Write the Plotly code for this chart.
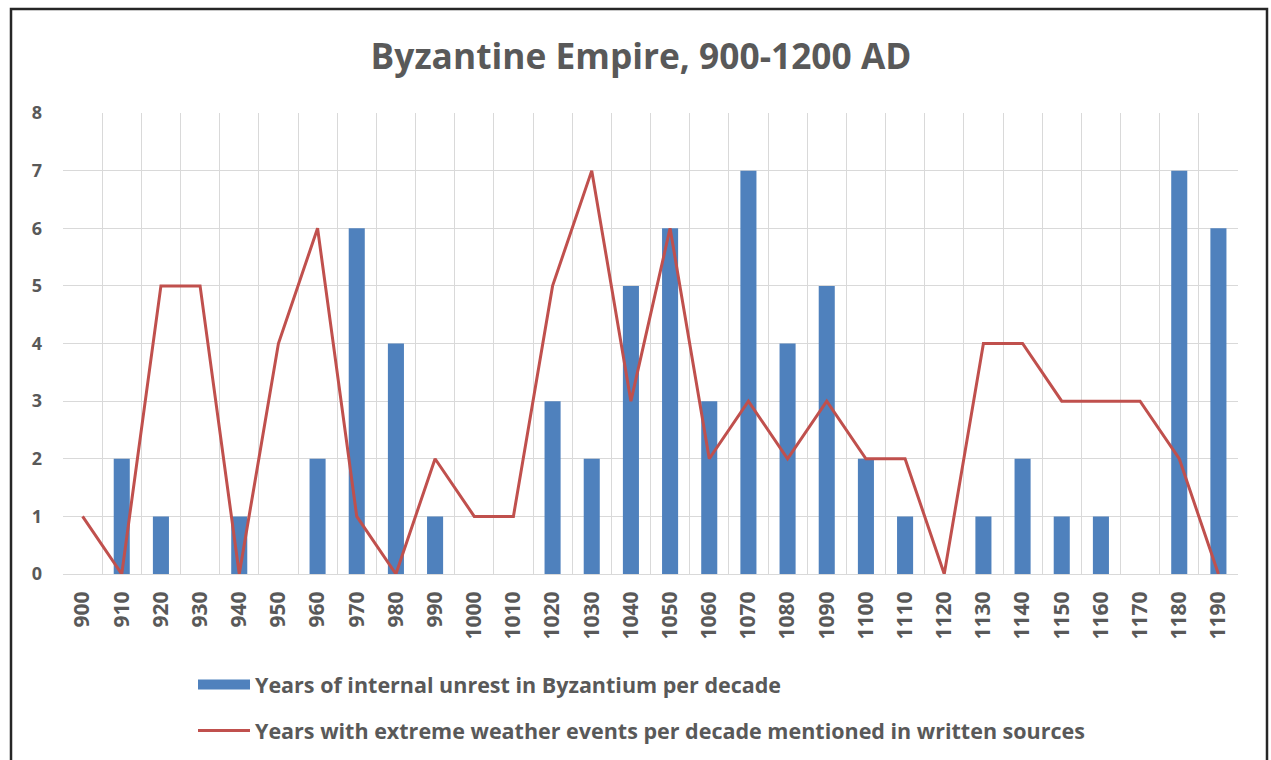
import plotly.graph_objects as go

decades = [900, 910, 920, 930, 940, 950, 960, 970, 980, 990,
           1000, 1010, 1020, 1030, 1040, 1050, 1060, 1070, 1080, 1090,
           1100, 1110, 1120, 1130, 1140, 1150, 1160, 1170, 1180, 1190]
unrest = [0, 2, 1, 0, 1, 0, 2, 6, 4, 1,
          0, 0, 3, 2, 5, 6, 3, 7, 4, 5,
          2, 1, 0, 1, 2, 1, 1, 0, 7, 6]
weather = [1, 0, 5, 5, 0, 4, 6, 1, 0, 2,
           1, 1, 5, 7, 3, 6, 2, 3, 2, 3,
           2, 2, 0, 4, 4, 3, 3, 3, 2, 0]
tick_labels = [str(d) for d in decades]
y_ticks = [0, 1, 2, 3, 4, 5, 6, 7, 8]

gray = "#595959"
blue = "#4f81bd"
red = "#c0504d"
font_family = "Open Sans, DejaVu Sans, sans-serif"

W, H = 1271, 760
L, T = 63, 113
PW, PH = 1175, 461

fig = go.Figure()
fig.add_trace(go.Bar(
    x=decades, y=unrest,
    name="Years of internal unrest in Byzantium per decade",
    marker=dict(color=blue, line=dict(width=0)),
    showlegend=False,
))
# legend swatch for the bars (wide block like the original)
fig.add_trace(go.Scatter(
    x=[None], y=[None], mode="lines",
    name="<b>Years of internal unrest in Byzantium per decade</b>",
    line=dict(color=blue, width=13),
    legendgroup="a",
))
fig.add_trace(go.Scatter(
    x=decades, y=weather, mode="lines",
    name="<b>Years with extreme weather events per decade mentioned in written sources</b>",
    line=dict(color=red, width=3),
    legendgroup="b",
))

fig.update_layout(
    width=W, height=H,
    paper_bgcolor="white", plot_bgcolor="white",
    margin=dict(l=L, r=W - L - PW, t=T, b=H - T - PH, autoexpand=False),
    title=dict(text="<b>Byzantine Empire, 900-1200 AD</b>", x=641 / W, xanchor="center",
               xref="container", y=1 - 57 / H, yanchor="middle",
               font=dict(family=font_family, size=35.3, color=gray)),
    bargap=0.59,
    showlegend=True,
    legend=dict(xref="container", yref="container",
                x=193 / W, y=1 - 664 / H, xanchor="left", yanchor="top",
                orientation="v", traceorder="grouped", tracegroupgap=15,
                itemwidth=52,
                font=dict(family=font_family, size=21.5, color=gray),
                bgcolor="rgba(0,0,0,0)"),
    xaxis=dict(
        range=[895, 1195], automargin=False,
        tickmode="array", tickvals=decades, ticktext=tick_labels,
        tickangle=-90, showgrid=False, zeroline=False,
        showline=True, linecolor="#d9d9d9", linewidth=1,
        ticks="", ticklabelstandoff=8,
        tickfont=dict(family=font_family, size=21, color=gray, weight="bold"),
        minor=dict(tick0=905, dtick=10, showgrid=True, gridcolor="#d9d9d9", gridwidth=1, ticks=""),
    ),
    yaxis=dict(
        range=[0, 8], tickmode="array", tickvals=y_ticks, automargin=False,
        showgrid=True, gridcolor="#d9d9d9", gridwidth=1,
        zeroline=False, showline=False, ticks="", ticklabelstandoff=20,
        tickfont=dict(family=font_family, size=18, color=gray, weight="bold"),
    ),
    shapes=[dict(type="rect", xref="paper", yref="paper",
                 x0=(11 - 63) / PW, x1=(1267 - 63) / PW,
                 y0=-0.6, y1=(574 - 9) / PH,
                 line=dict(color="#262626", width=2.5), layer="below")],
)

fig.write_html("out.html", config={"displayModeBar": False},
               post_script="document.body.style.margin='0px';")
